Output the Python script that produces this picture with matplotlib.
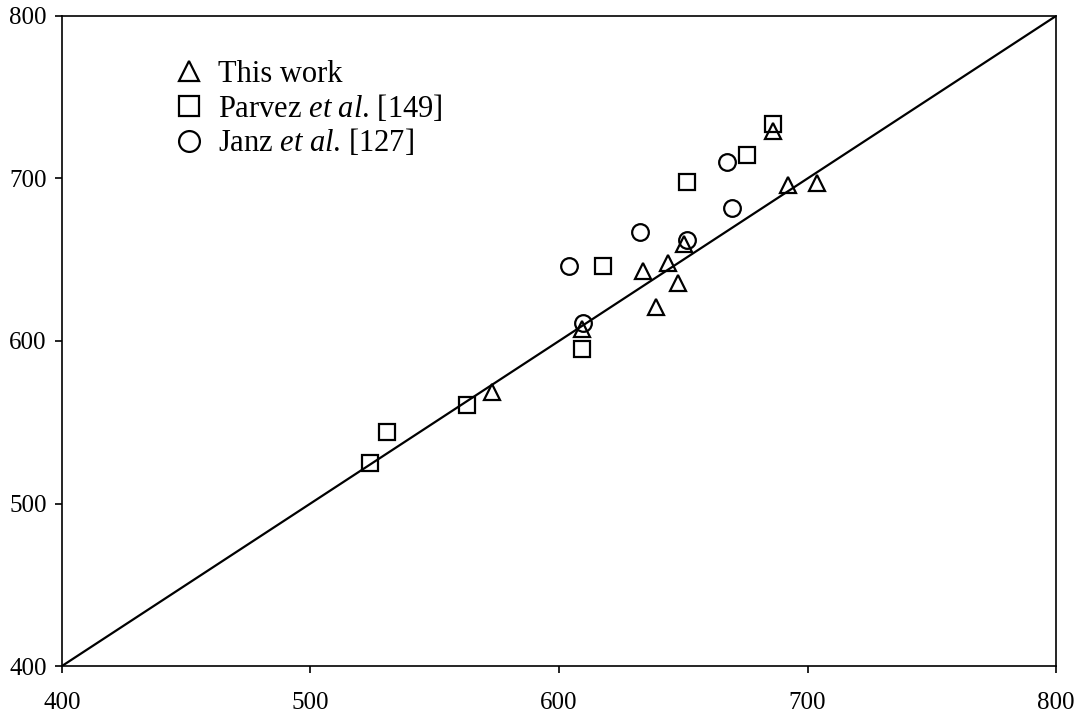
import matplotlib
matplotlib.use("Agg")
import matplotlib.pyplot as plt
from matplotlib.lines import Line2D

plt.rcParams['font.family'] = ['Liberation Serif', 'DejaVu Serif']
plt.rcParams['mathtext.fontset'] = 'custom'
plt.rcParams['mathtext.rm'] = 'Liberation Serif'
plt.rcParams['mathtext.it'] = 'Liberation Serif:italic'

# This work
this_x = [572.9, 609.3, 633.9, 638.9, 644.0, 647.8, 650.3, 686.2, 692.3, 704.0]
this_y = [568.8, 607.2, 643.3, 620.7, 647.8, 635.5, 659.7, 729.0, 696.0, 697.4]
# Parvez et al. [149]
parvez_x = [523.9, 530.9, 563.1, 609.1, 617.8, 651.6, 675.8, 686.0]
parvez_y = [525.1, 544.2, 560.6, 595.3, 646.4, 698.0, 714.5, 733.5]
# Janz et al. [127]
janz_x = [603.9, 609.8, 632.7, 651.6, 667.7, 669.7]
janz_y = [646.4, 611.3, 666.9, 662.2, 710.0, 682.0]

parity = [400, 800]
ticks = [400, 500, 600, 700, 800]
labels = ["This work", r"Parvez $\it{et\ al}$. [149]", r"Janz $\it{et\ al}$. [127]"]

fig = plt.figure(figsize=(10.85, 7.13), dpi=100)
ax = fig.add_axes([0.0571, 0.0659, 0.9162, 0.9117])

ax.plot(parity, parity, color='black', lw=1.6, zorder=1)
ms = 12
mk = dict(linestyle='none', markerfacecolor='none', markeredgecolor='black', markeredgewidth=1.6, markersize=ms, zorder=3)
ax.plot(parvez_x, parvez_y, marker='s', **mk)
ax.plot(janz_x, janz_y, marker='o', **mk)
ax.plot(this_x, this_y, marker='^', **mk)

ax.set_xlim(400, 800)
ax.set_ylim(400, 800)
ax.set_xticks(ticks)
ax.set_yticks(ticks)
ax.tick_params(axis='x', direction='out', length=5, width=1.2, pad=14, labelsize=18)
ax.tick_params(axis='y', direction='out', length=5, width=1.2, pad=6, labelsize=18)
for s in ax.spines.values():
    s.set_linewidth(1.2)
    s.set_color('black')

lk = dict(linestyle='none', markerfacecolor='none', markeredgecolor='black', markeredgewidth=1.6, markersize=15)
handles = [
    Line2D([], [], marker='^', **lk),
    Line2D([], [], marker='s', **lk),
    Line2D([], [], marker='o', **lk),
]
ax.legend(handles, labels, loc='upper left', bbox_to_anchor=(0.088, 0.970), frameon=False,
          fontsize=22, handlelength=1.0, handletextpad=0.45, labelspacing=0.12, borderpad=0.3)

fig.savefig("out.png", dpi=100)
